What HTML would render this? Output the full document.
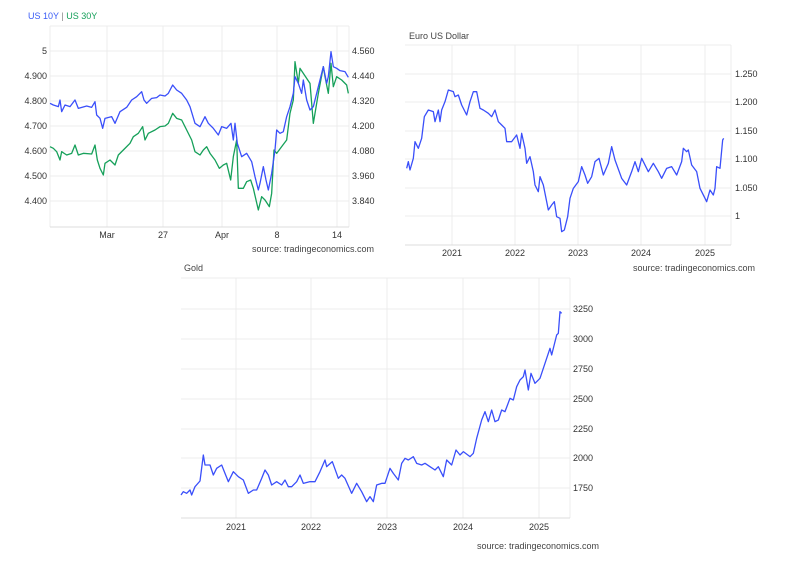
<!DOCTYPE html>
<html><head><meta charset="utf-8"><style>
body{margin:0;background:#fff;font-family:"Liberation Sans",sans-serif;}
svg text{font-family:"Liberation Sans",sans-serif;}
</style></head><body>
<svg width="792" height="562" xmlns="http://www.w3.org/2000/svg">
<rect width="792" height="562" fill="#fff"/>
<!-- Chart 1 -->
<text x="28" y="19" font-size="9" fill="#3a5cf5">US 10Y <tspan fill="#888">|</tspan> <tspan fill="#16a05a">US 30Y</tspan></text>
<g stroke="#ececec" stroke-width="1">
<line x1="50" y1="26" x2="349" y2="26"/><line x1="50" y1="51" x2="349" y2="51"/><line x1="50" y1="76" x2="349" y2="76"/><line x1="50" y1="101" x2="349" y2="101"/><line x1="50" y1="126" x2="349" y2="126"/><line x1="50" y1="151" x2="349" y2="151"/><line x1="50" y1="176" x2="349" y2="176"/><line x1="50" y1="201" x2="349" y2="201"/>
<line x1="107" y1="26" x2="107" y2="227"/><line x1="163" y1="26" x2="163" y2="227"/><line x1="222" y1="26" x2="222" y2="227"/><line x1="277" y1="26" x2="277" y2="227"/><line x1="337" y1="26" x2="337" y2="227"/>
<line x1="50" y1="26" x2="50" y2="227"/><line x1="349" y1="26" x2="349" y2="227"/>
</g>
<line x1="50" y1="227" x2="349" y2="227" stroke="#ddd"/>
<g font-size="9" fill="#333" text-anchor="end">
<text x="47" y="54">5</text><text x="47" y="79">4.900</text><text x="47" y="104">4.800</text><text x="47" y="129">4.700</text><text x="47" y="154">4.600</text><text x="47" y="179">4.500</text><text x="47" y="204">4.400</text>
</g>
<g font-size="9" fill="#333">
<text x="352" y="54">4.560</text><text x="352" y="79">4.440</text><text x="352" y="104">4.320</text><text x="352" y="129">4.200</text><text x="352" y="154">4.080</text><text x="352" y="179">3.960</text><text x="352" y="204">3.840</text>
</g>
<g font-size="9" fill="#333" text-anchor="middle">
<text x="107" y="238">Mar</text><text x="163" y="238">27</text><text x="222" y="238">Apr</text><text x="277" y="238">8</text><text x="337" y="238">14</text>
</g>
<text x="374" y="252" font-size="9" fill="#444" text-anchor="end">source: tradingeconomics.com</text>
<g transform="scale(0.33333)" fill="none" stroke-width="1.3" stroke-linejoin="round">
<polyline vector-effect="non-scaling-stroke" stroke="#16a05a" points="150,440 160,445 170,455 180,480 185,455 200,465 215,460 225,435 235,465 250,460 275,462 285,435 292,480 300,505 310,525 315,490 330,480 345,495 355,465 370,450 390,430 400,410 415,400 428,380 435,420 445,400 465,390 480,380 495,378 505,370 518,340 530,355 545,360 560,390 575,420 585,455 600,465 610,450 620,440 630,460 645,480 658,505 670,495 680,490 692,540 700,470 710,420 715,565 730,565 740,545 752,540 760,565 775,630 785,590 795,600 808,620 815,580 822,450 830,460 845,440 860,420 870,340 880,300 885,185 895,250 900,205 910,220 920,235 930,250 940,370 945,340 955,280 970,200 975,230 985,280 993,190 1000,260 1010,230 1025,240 1040,255 1045,280"/>
<polyline vector-effect="non-scaling-stroke" stroke="#3a4ffa" points="150,310 160,315 175,320 180,300 185,335 195,315 210,320 225,300 235,325 260,318 275,322 285,305 290,345 300,355 308,385 315,355 335,350 345,370 360,335 380,322 395,300 410,290 425,275 432,300 440,310 455,295 470,293 480,285 495,288 505,280 518,255 530,270 545,280 560,300 570,320 585,370 600,380 615,350 625,370 640,385 655,405 665,380 680,385 693,370 700,420 705,370 712,430 725,470 740,460 755,485 765,530 775,570 780,550 790,500 798,540 805,570 815,520 825,450 830,390 840,400 850,395 860,350 870,320 880,280 885,230 895,250 905,280 910,240 920,300 930,330 940,320 950,280 960,240 970,200 980,250 985,230 993,155 1000,200 1010,205 1020,212 1035,215 1045,232"/>
</g>
<!-- Chart 2 -->
<text x="409" y="39" font-size="9" fill="#444">Euro US Dollar</text>
<g stroke="#ececec">
<line x1="405" y1="45" x2="731" y2="45"/><line x1="405" y1="74" x2="731" y2="74"/><line x1="405" y1="102" x2="731" y2="102"/><line x1="405" y1="131" x2="731" y2="131"/><line x1="405" y1="159" x2="731" y2="159"/><line x1="405" y1="188" x2="731" y2="188"/><line x1="405" y1="216" x2="731" y2="216"/>
<line x1="452" y1="45" x2="452" y2="245"/><line x1="515" y1="45" x2="515" y2="245"/><line x1="578" y1="45" x2="578" y2="245"/><line x1="641" y1="45" x2="641" y2="245"/><line x1="705" y1="45" x2="705" y2="245"/><line x1="731" y1="45" x2="731" y2="245"/>
</g>
<line x1="405" y1="245" x2="731" y2="245" stroke="#ddd"/>
<g font-size="9" fill="#333">
<text x="735" y="77">1.250</text><text x="735" y="105">1.200</text><text x="735" y="134">1.150</text><text x="735" y="162">1.100</text><text x="735" y="191">1.050</text><text x="735" y="219">1</text>
</g>
<g font-size="9" fill="#333" text-anchor="middle">
<text x="452" y="256">2021</text><text x="515" y="256">2022</text><text x="578" y="256">2023</text><text x="641" y="256">2024</text><text x="705" y="256">2025</text>
</g>
<text x="755" y="271" font-size="9" fill="#444" text-anchor="end">source: tradingeconomics.com</text>
<g transform="translate(395,25) scale(0.33333)" fill="none" stroke-linejoin="round">
<polyline vector-effect="non-scaling-stroke" stroke="#3a4ffa" stroke-width="1.3" points="35,430 40,410 45,435 55,400 60,350 70,370 80,340 88,275 100,255 115,260 120,290 130,255 135,290 140,255 150,230 160,195 175,200 180,215 190,210 200,240 215,270 225,230 235,200 245,200 255,250 265,255 280,265 290,275 300,255 310,290 320,300 330,310 335,350 350,350 365,330 375,370 380,325 390,370 395,415 405,395 415,440 420,480 430,500 435,455 445,480 455,530 460,555 470,540 478,530 485,575 495,580 500,620 508,615 518,575 525,520 535,490 550,470 560,425 570,450 578,475 590,455 600,410 612,400 625,450 640,415 650,365 660,405 680,460 695,480 710,440 720,410 730,440 740,400 760,440 775,415 790,440 800,460 815,430 830,425 845,450 860,410 865,370 875,380 880,375 890,420 905,440 915,490 930,520 935,530 945,495 955,510 960,490 965,425 975,430 983,345 986,340"/>
</g>
<!-- Chart 3 -->
<text x="184" y="271" font-size="9" fill="#444">Gold</text>
<g stroke="#ececec">
<line x1="181" y1="278" x2="570" y2="278"/><line x1="181" y1="309" x2="570" y2="309"/><line x1="181" y1="339" x2="570" y2="339"/><line x1="181" y1="369" x2="570" y2="369"/><line x1="181" y1="399" x2="570" y2="399"/><line x1="181" y1="429" x2="570" y2="429"/><line x1="181" y1="458" x2="570" y2="458"/><line x1="181" y1="488" x2="570" y2="488"/>
<line x1="236" y1="278" x2="236" y2="518"/><line x1="311" y1="278" x2="311" y2="518"/><line x1="387" y1="278" x2="387" y2="518"/><line x1="463" y1="278" x2="463" y2="518"/><line x1="539" y1="278" x2="539" y2="518"/><line x1="570" y1="278" x2="570" y2="518"/>
</g>
<line x1="181" y1="518" x2="570" y2="518" stroke="#ddd"/>
<g font-size="9" fill="#333">
<text x="573" y="312">3250</text><text x="573" y="342">3000</text><text x="573" y="372">2750</text><text x="573" y="402">2500</text><text x="573" y="432">2250</text><text x="573" y="461">2000</text><text x="573" y="491">1750</text>
</g>
<g font-size="9" fill="#333" text-anchor="middle">
<text x="236" y="530">2021</text><text x="311" y="530">2022</text><text x="387" y="530">2023</text><text x="463" y="530">2024</text><text x="539" y="530">2025</text>
</g>
<text x="599" y="549" font-size="9" fill="#444" text-anchor="end">source: tradingeconomics.com</text>
<g transform="translate(170,255) scale(0.33333)" fill="none" stroke-linejoin="round">
<polyline vector-effect="non-scaling-stroke" stroke="#3a4ffa" stroke-width="1.3" points="33,720 40,710 50,715 60,705 65,720 75,695 90,678 100,600 105,630 120,630 130,660 140,640 155,630 165,655 175,680 190,650 205,665 220,675 235,715 250,705 260,705 275,670 285,645 295,660 305,690 320,680 335,690 345,675 355,695 365,695 380,680 390,660 400,685 420,680 435,680 450,650 465,615 470,635 487,620 505,670 515,660 525,670 545,715 560,685 575,710 590,740 600,725 610,740 620,690 635,685 645,685 660,640 670,655 685,675 695,625 705,610 715,615 730,605 740,625 755,630 765,625 780,635 795,645 805,635 820,665 830,615 845,630 858,585 870,600 880,590 900,605 910,595 920,550 935,495 945,470 955,500 965,465 975,500 985,495 995,465 1005,470 1020,430 1030,435 1040,395 1050,375 1060,365 1065,345 1075,405 1083,355 1095,385 1110,370 1125,325 1140,280 1145,300 1160,240 1165,235 1170,170 1175,175"/>
</g>
</svg>
</body></html>
